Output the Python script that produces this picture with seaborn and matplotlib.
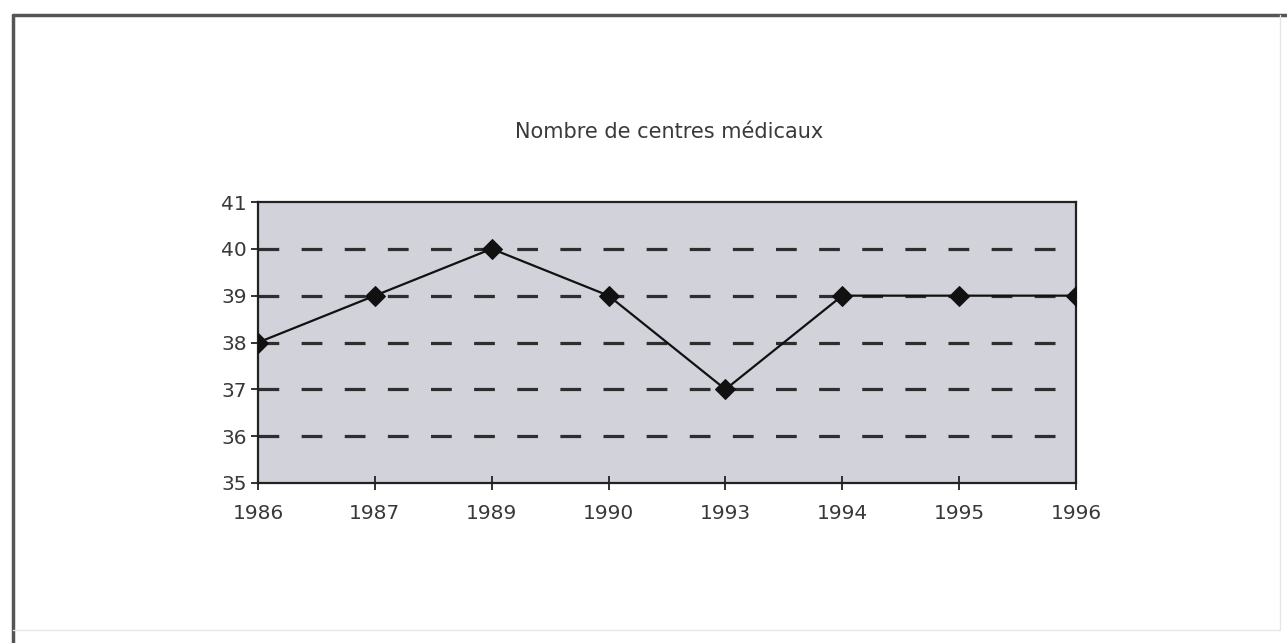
import numpy as np
import pandas as pd
import matplotlib
matplotlib.use('Agg')
import matplotlib.pyplot as plt
import seaborn as sns
from matplotlib.lines import Line2D

annees = ['1986', '1987', '1989', '1990', '1993', '1994', '1995', '1996']
centres = [38, 39, 40, 39, 37, 39, 39, 39]
titre = 'Nombre de centres médicaux'

df = pd.DataFrame({'annee': annees, 'centres': centres})

sns.set_style('white')
plt.rcParams['font.family'] = ['DejaVu Sans']

fig = plt.figure(figsize=(12.87, 6.43), dpi=100)
ax = fig.add_axes([258/1287, 1 - 483/643, (1076 - 258)/1287, (483 - 202)/643])
ax.set_facecolor('#d2d2da')

# grille en tirets
for y in [36, 37, 38, 39, 40]:
    ax.axhline(y, color='#2e2e2e', lw=2.3, ls=(0, (6.5, 7.0)), zorder=1)

sns.lineplot(data=df, x='annee', y='centres', ax=ax, color='#111111', lw=1.6,
             marker='D', markersize=10, markeredgecolor='#111111', sort=False, zorder=3)

ax.set_xlim(0, len(annees) - 1)
ax.set_ylim(35, 41)
ax.set_yticks(range(35, 42))
ax.set_xlabel('')
ax.set_ylabel('')
for s in ax.spines.values():
    s.set_color('#222222')
    s.set_linewidth(1.6)
ax.tick_params(axis='x', bottom=True, direction='inout', length=10, width=1.3,
               colors='#222222', labelsize=14.5, pad=10)
ax.tick_params(axis='y', left=True, direction='out', length=5, width=1.3,
               colors='#222222', labelsize=14.5, pad=3)
for lab in ax.get_xticklabels() + ax.get_yticklabels():
    lab.set_color('#383838')

fig.text((258 + 1076) / 2 / 1287 + 0.002, 1 - 132 / 643, titre, ha='center', va='center',
         fontsize=15, color='#3a3a3a')

# cadre de la page
fig.add_artist(Line2D([13/1287, 1], [1 - 15/643, 1 - 15/643], color='#555555', lw=2.5))
fig.add_artist(Line2D([13/1287, 13/1287], [0, 1 - 15/643], color='#555555', lw=2.5))
fig.add_artist(Line2D([1280/1287, 1280/1287], [1 - 630/643, 1 - 15/643], color='#e6e6e6', lw=1))
fig.add_artist(Line2D([13/1287, 1280/1287], [1 - 630/643, 1 - 630/643], color='#e6e6e6', lw=1))

fig.savefig('out.png', dpi=100)
